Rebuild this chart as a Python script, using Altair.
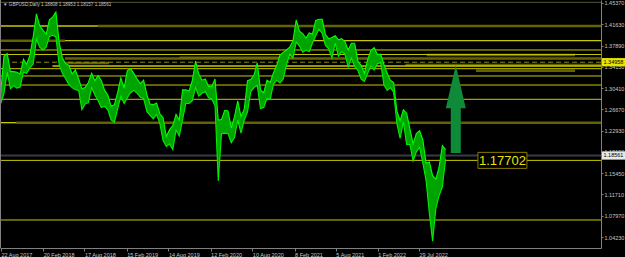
import altair as alt
import pandas as pd

# ---------------- data ----------------
PERIOD_START = "2017-08-21"          # first bi-weekly bar
lows = [1.2770, 1.2950, 1.3320, 1.3030, 1.3080, 1.3040, 1.3060, 1.3320, 1.3300, 1.3400,
        1.3460, 1.3900, 1.3760, 1.3710, 1.3760, 1.3950, 1.3970, 1.3940, 1.3450, 1.3300,
        1.3205, 1.3100, 1.3050, 1.3010, 1.3000, 1.2662, 1.2760, 1.2785, 1.3050, 1.2920,
        1.2820, 1.2700, 1.2720, 1.2660, 1.2480, 1.2440, 1.2670, 1.2900, 1.2770, 1.2870,
        1.2960, 1.3000, 1.2950, 1.2880, 1.2860, 1.2630, 1.2560, 1.2500, 1.2580, 1.2420,
        1.2120, 1.2015, 1.2060, 1.1958, 1.2300, 1.2200, 1.2480, 1.2770, 1.2770, 1.2820,
        1.3050, 1.2900, 1.2950, 1.2980, 1.2870, 1.2850, 1.2730, 1.1409, 1.2240, 1.2250,
        1.2240, 1.2080, 1.2170, 1.2480, 1.2250, 1.2480, 1.2620, 1.2980, 1.3050, 1.3090,
        1.2680, 1.2700, 1.2860, 1.2850, 1.3110, 1.3180, 1.3130, 1.3200, 1.3450, 1.3640,
        1.3570, 1.3850, 1.3780, 1.3670, 1.3710, 1.3680, 1.3830, 1.3960, 1.4080, 1.4000,
        1.3790, 1.3730, 1.3570, 1.3830, 1.3600, 1.3680, 1.3640, 1.3410, 1.3570, 1.3420,
        1.3350, 1.3200, 1.3160, 1.3300, 1.3430, 1.3360, 1.3470, 1.3490, 1.3100, 1.3000,
        1.3050, 1.2970, 1.2410, 1.2155, 1.2450, 1.2050, 1.2050, 1.1760, 1.1920, 1.2000,
        1.1720, 1.1410, 1.0840, 1.0350, 1.0920, 1.1150, 1.1300, 1.1790]
highs = [1.2950, 1.3600, 1.3650, 1.3330, 1.3330, 1.3320, 1.3290, 1.3550, 1.3460, 1.3620,
         1.3940, 1.4345, 1.4140, 1.4060, 1.3990, 1.4240, 1.4290, 1.4377, 1.3850, 1.3570,
         1.3470, 1.3440, 1.3290, 1.3360, 1.3200, 1.3030, 1.3050, 1.3140, 1.3300, 1.3170,
         1.3260, 1.3170, 1.3000, 1.2920, 1.2720, 1.2750, 1.2960, 1.3220, 1.3040, 1.3350,
         1.3380, 1.3300, 1.3200, 1.3120, 1.3180, 1.2930, 1.2760, 1.2750, 1.2780, 1.2590,
         1.2520, 1.2190, 1.2310, 1.2380, 1.2580, 1.2480, 1.3010, 1.3010, 1.2990, 1.3170,
         1.3515, 1.3290, 1.3180, 1.3200, 1.3070, 1.3070, 1.3200, 1.2480, 1.2490, 1.2650,
         1.2640, 1.2340, 1.2540, 1.2815, 1.2540, 1.2670, 1.3170, 1.3190, 1.3270, 1.3482,
         1.3010, 1.2960, 1.3180, 1.3140, 1.3310, 1.3440, 1.3620, 1.3670, 1.3710, 1.3760,
         1.3870, 1.4240, 1.4040, 1.4000, 1.3920, 1.4010, 1.3990, 1.4230, 1.4250, 1.4250,
         1.3980, 1.3910, 1.3930, 1.3960, 1.3890, 1.3910, 1.3860, 1.3710, 1.3830, 1.3830,
         1.3510, 1.3440, 1.3300, 1.3540, 1.3700, 1.3750, 1.3630, 1.3640, 1.3460, 1.3300,
         1.3180, 1.3140, 1.2640, 1.2470, 1.2660, 1.2600, 1.2330, 1.2060, 1.2240, 1.2290,
         1.2130, 1.1720, 1.1740, 1.1500, 1.1440, 1.1650, 1.2030, 1.1960]

# horizontal levels
yellow_full = [1.3711, 1.3632, 1.3382, 1.3254, 1.3095, 1.2844, 1.17702, 1.0722]
yellow_part_price = [1.4133, 1.3874, 1.2433, 1.3429]
yellow_part_start = ["2017-08-01", "2018-05-25", "2017-08-01", "2018-04-01"]
yellow_part_end = ["2018-10-14", "2025-01-01", "2017-10-26", "2025-01-01"]
olive_price = [1.4133, 1.3874, 1.2433, 1.3561, 1.3623, 1.3449, 1.3347, 1.3480, 1.3575]
olive_start = ["2018-10-14", "2017-08-01", "2017-10-26", "2018-05-25", "2022-09-01",
               "2022-06-01", "2023-04-01", "2018-05-25", "2019-10-01"]
olive_end = ["2025-01-01", "2018-05-25", "2025-01-01", "2025-01-01", "2024-06-01",
             "2025-01-01", "2024-06-01", "2018-12-01", "2021-02-01"]
top_level = [1.4549]
dashed_level = [1.34958]
bid_level = [1.18561]

y_ticks = [1.45370, 1.41630, 1.37890, 1.34150, 1.30410, 1.26670,
           1.22930, 1.19190, 1.15450, 1.11710, 1.07970, 1.04230]
x_ticks = [(2017, 8, 22), (2018, 2, 20), (2018, 8, 17), (2019, 2, 15), (2019, 8, 14),
           (2020, 2, 12), (2020, 8, 10), (2021, 2, 8), (2021, 8, 5), (2022, 2, 1),
           (2022, 7, 29)]

header_text = ["\u25BC GBPUSD,Daily  1.18808 1.18953 1.18157 1.18561"]
arrow_date = ["2023-01-04"]
arrow_price = [1.2673]
label_date = ["2023-07-24"]
label_price = [1.17702]
label_text = ["1.17702"]
axis_hl_yellow = [1.34958]
axis_hl_white = [1.18561]

# ---------------- frames ----------------
dates = pd.date_range(PERIOD_START, periods=len(lows), freq="14D")
price_df = pd.DataFrame({"date": dates.strftime("%Y-%m-%dT00:00:00"), "low": lows, "high": highs})

def dt(s):
    return s + "T00:00:00"

X_DOMAIN = [alt.DateTime(year=2017, month=8, date=18), alt.DateTime(year=2024, month=9, date=21)]
Y_DOMAIN = [1.02297, 1.45897]
xs = alt.Scale(domain=X_DOMAIN)
ys = alt.Scale(domain=Y_DOMAIN)

x_axis = alt.Axis(
    values=[alt.DateTime(year=a, month=b, date=c) for a, b, c in x_ticks],
    format="%-d %b %Y", labelAlign="left", labelBaseline="top", labelPadding=1,
    labelFontSize=5.5, labelFont="Liberation Sans", labelColor="#c8c8c8",
    tickColor="#808080", tickSize=3, domainColor="#808080", grid=False,
    labelOverlap=False, labelFlush=False, labelBound=False, title="",
)
y_axis = alt.Axis(
    orient="right", values=y_ticks, format=".5f", labelFontSize=5.5,
    labelFont="Liberation Sans", labelColor="#c8c8c8", tickColor="#808080",
    tickSize=2, labelPadding=1, domainColor="#808080", grid=False,
    labelOverlap=False, labelBound=False, title="",
)

def X(field):
    return alt.X(field, type="temporal", scale=xs, axis=x_axis, title="")

def Yq(field):
    return alt.Y(field, type="quantitative", scale=ys, axis=y_axis, title="")

full_start = "2017-08-01T00:00:00"
full_end = "2025-01-01T00:00:00"

def level_df(prices, starts=None, ends=None):
    n = len(prices)
    return pd.DataFrame({
        "p": prices,
        "s": [dt(v) for v in starts] if starts else [full_start] * n,
        "e": [dt(v) for v in ends] if ends else [full_end] * n,
    })

def hlines(df, color, width=1, dash=None, opacity=1.0):
    kw = dict(color=color, strokeWidth=width, opacity=opacity, clip=True)
    if dash:
        kw["strokeDash"] = dash
    return alt.Chart(df).mark_rule(**kw).encode(x=X("s:T"), x2="e:T", y=Yq("p:Q"))

band = alt.Chart(price_df).mark_area(color="#00a400", clip=True).encode(
    x=X("date:T"), y=Yq("low:Q"), y2="high:Q")
hi_line = alt.Chart(price_df).mark_line(color="#00ff00", strokeWidth=1.1, clip=True).encode(
    x=X("date:T"), y=Yq("high:Q"))
lo_line = alt.Chart(price_df).mark_line(color="#00ee00", strokeWidth=1.1, clip=True).encode(
    x=X("date:T"), y=Yq("low:Q"))

YEL = "#c8c800"
OLV = "#6e6e00"
layers = [
    hlines(level_df(olive_price, olive_start, olive_end), OLV, 2.5, opacity=0.9),
    hlines(level_df(top_level), "#55553a", 1),
    hlines(level_df(yellow_full), YEL, 1),
    hlines(level_df(yellow_part_price, yellow_part_start, yellow_part_end), YEL, 1.3),
    hlines(level_df(dashed_level), "#8c8c10", 1, dash=[5, 3]),
    hlines(level_df(bid_level), "#3a3a4e", 2),
    band, lo_line, hi_line,
]

# left frame line
layers.append(alt.Chart(pd.DataFrame({"k": [0]})).mark_rule(color="#808080").encode(
    x=alt.value(0.5), y=alt.value(0), y2=alt.value(248)))

# arrow
ARROW = "M-0.114,1 L0.114,1 L0.114,-0.02 L0.227,-0.02 L0,-1 L-0.227,-0.02 L-0.114,-0.02 Z"
arrow_df = pd.DataFrame({"d": [dt(v) for v in arrow_date], "p": arrow_price})
layers.append(alt.Chart(arrow_df).mark_point(shape=ARROW, size=88 * 88, filled=True,
                                             color="#0e8a38", opacity=1).encode(
    x=X("d:T"), y=Yq("p:Q")))

# price label box
lab_df = pd.DataFrame({"d": [dt(v) for v in label_date], "p": label_price, "t": label_text})
BOX = "M-1,-0.327 L1,-0.327 L1,0.327 L-1,0.327 Z"
layers.append(alt.Chart(lab_df).mark_point(shape=BOX, size=49 * 49, filled=True, fill="black",
                                           stroke="#8a7c00", strokeWidth=1, opacity=1).encode(
    x=X("d:T"), y=Yq("p:Q")))
layers.append(alt.Chart(lab_df).mark_text(font="Liberation Sans", fontSize=13, color="#e6e600",
                                          baseline="middle", align="center", dy=0.5).encode(
    x=X("d:T"), y=Yq("p:Q"), text="t:N"))

# axis highlighted labels
SMALL = "M-1,-0.36 L1,-0.36 L1,0.36 L-1,0.36 Z"
hl_y = pd.DataFrame({"p": axis_hl_yellow, "t": [f"{v:.5f}" for v in axis_hl_yellow]})
hl_w = pd.DataFrame({"p": axis_hl_white, "t": [f"{v:.5f}" for v in axis_hl_white]})
for df, bg in ((hl_y, "#e6e600"), (hl_w, "#e8e8e8")):
    layers.append(alt.Chart(df).mark_point(shape=SMALL, size=23 * 23, filled=True, color=bg,
                                           opacity=1).encode(
        x=alt.value(613.5), y=Yq("p:Q")))
    layers.append(alt.Chart(df).mark_text(font="Liberation Sans", fontSize=5.5, color="black",
                                          align="left", baseline="middle").encode(
        x=alt.value(603.5), y=Yq("p:Q"), text="t:N"))

# header text
layers.append(alt.Chart(pd.DataFrame({"t": header_text})).mark_text(
    font="Liberation Sans", fontSize=4.6, color="#c8c8c8", align="left", baseline="middle").encode(
    x=alt.value(3), y=alt.value(4.5), text="t:N"))

chart = alt.layer(*layers).properties(
    width=601, height=248,
    padding={"left": 0, "top": 0, "right": 24, "bottom": 9},
    autosize=alt.AutoSizeParams(type="none"),
    background="black",
).configure_view(fill="black", strokeWidth=0)

chart.save("out.html", embed_options={"renderer": "svg", "actions": False})
